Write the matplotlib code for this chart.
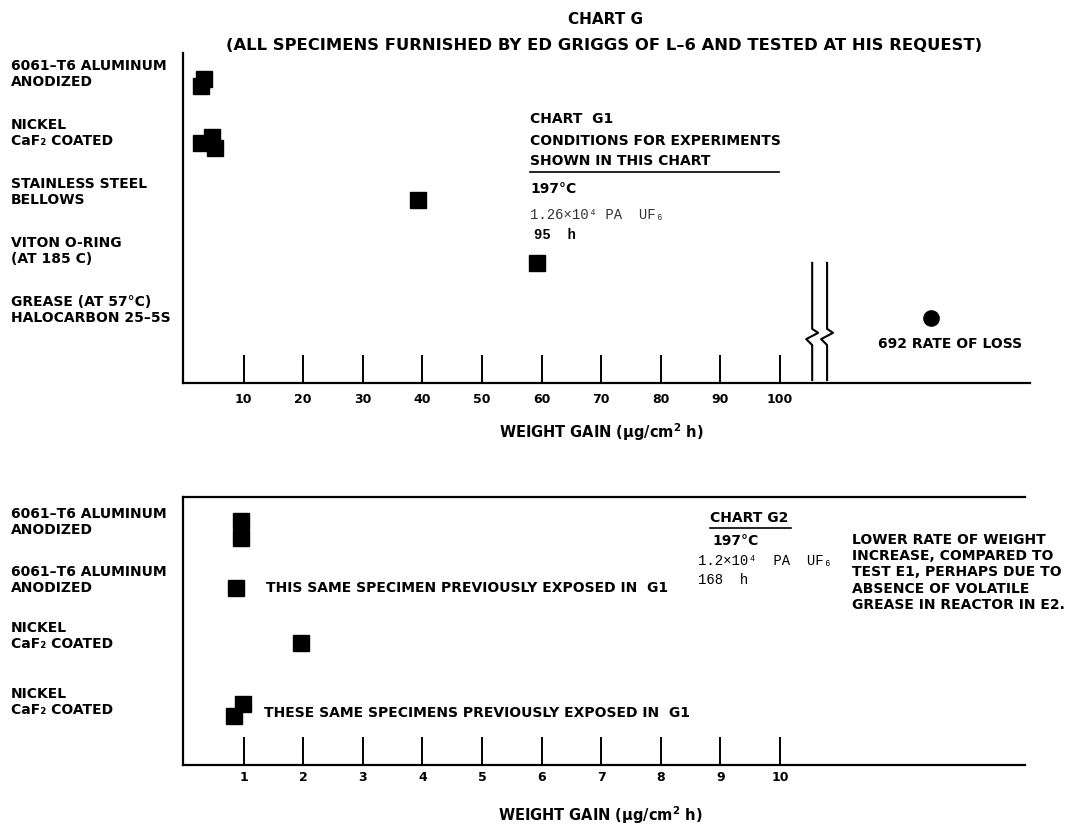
import numpy as np
import matplotlib
matplotlib.use("Agg")
import matplotlib.pyplot as plt
from matplotlib.transforms import blended_transform_factory

# ---------------- data ----------------
top_labels = ["6061\u2013T6 ALUMINUM\nANODIZED",
              "NICKEL\nCaF\u2082 COATED",
              "STAINLESS STEEL\nBELLOWS",
              "VITON O-RING\n(AT 185 C)",
              "GREASE (AT 57\u00b0C)\nHALOCARBON 25\u20135S"]
# weight gain per specimen (ug/cm2 h), row index, small vertical jitter (rows)
top_gain = [3.4, 2.8, 4.7, 2.9, 5.2, 39.3, 59.2]
top_row = [0, 0, 1, 1, 1, 2, 3]
top_jit = [-0.05, 0.07, -0.07, 0.03, 0.12, 0.0, 0.07]
grease_loss = 692
grease_row = 4

top_ticks = [10, 20, 30, 40, 50, 60, 70, 80, 90, 100]

bot_labels = ["6061\u2013T6 ALUMINUM\nANODIZED",
              "6061\u2013T6 ALUMINUM\nANODIZED",
              "NICKEL\nCaF\u2082 COATED",
              "NICKEL\nCaF\u2082 COATED"]
bot_gain = [0.95, 0.95, 0.87, 1.96, 0.99, 0.84]
bot_row = [0, 0, 1, 2, 3, 3]
bot_jit = [-0.15, 0.13, 0.0, -0.03, -0.1, 0.1]
bot_ticks = [1, 2, 3, 4, 5, 6, 7, 8, 9, 10]

# ---------------- layout ----------------
W, H = 1068, 827
fig = plt.figure(figsize=(W / 100, H / 100), dpi=100)
plt.rcParams['font.family'] = ['DejaVu Sans']
plt.rcParams['font.weight'] = 'bold'
plt.rcParams['mathtext.default'] = 'bf'

def fx(px):
    return px / W

def fy(py):
    return 1 - py / H

FS = 10
mono = ['Liberation Mono', 'DejaVu Sans Mono']

# top panel: left 183, right 1030, top 53, bottom 383 (px)
ax1 = fig.add_axes([fx(183), fy(383), fx(1030 - 183), (383 - 53) / H])
top_rows_pos = np.arange(len(top_labels))
ax1.set_xlim(-0.17, (1030 - 184) / 5.96)
ax1.set_ylim(5.1, -0.49)

# bottom panel: left 183, right 1025, top 497, bottom 765
ax2 = fig.add_axes([fx(183), fy(765), fx(1025 - 183), (765 - 497) / H])
bot_rows_pos = np.array([0, 1, 1.97, 3.1])
ax2.set_xlim(-0.017, (1025 - 184) / 59.6)
ax2.set_ylim(4.05, -0.57)

for ax in (ax1, ax2):
    ax.spines['right'].set_visible(False)
    ax.spines['left'].set_linewidth(1.6)
    ax.spines['bottom'].set_linewidth(1.6)
    ax.spines['top'].set_linewidth(1.6)
    ax.set_yticks([])
    ax.tick_params(axis='x', direction='in', length=20, width=1.4,
                   labelsize=9, colors='black')
ax1.spines['top'].set_visible(False)
ax1.tick_params(axis='x', pad=7.5)
ax2.tick_params(axis='x', pad=4.5)

ax1.set_xticks(top_ticks)
ax1.set_xticklabels([str(t) for t in top_ticks], fontweight='bold', fontsize=9)
ax2.set_xticks(bot_ticks)
ax2.set_xticklabels([str(t) for t in bot_ticks], fontweight='bold', fontsize=9)

# markers
msz = 11.5
ax1.plot(top_gain, top_rows_pos[top_row] + np.array(top_jit), 's', color='black',
         ms=msz, mec='black', clip_on=False)


def broken_x(v):
    # values beyond the axis break are drawn in the zone right of the break
    return v if v <= 100 else 125.3


ax1.plot([broken_x(grease_loss)], [top_rows_pos[grease_row]], 'o', color='black', ms=11)
ax1.annotate(f"{grease_loss} RATE OF LOSS", (broken_x(grease_loss), top_rows_pos[grease_row]),
             xytext=(-53, -26), textcoords='offset pixels', fontsize=FS,
             va='center', ha='left')

ax2.plot(bot_gain, bot_rows_pos[bot_row] + np.array(bot_jit), 's', color='black',
         ms=msz, mec='black', clip_on=False)

# axis break marks
brk = blended_transform_factory(ax1.transData, ax1.transAxes)
for xb in [105.4, 107.9]:
    xs = [xb, xb, xb + 1.0, xb - 1.0, xb, xb]
    ys = [0.364, 0.164, 0.152, 0.133, 0.115, 0.009]
    ax1.plot(xs, ys, color='black', lw=1.5, transform=brk, clip_on=False)

# row labels
lt1 = blended_transform_factory(fig.transFigure, ax1.transData)
for i, lab in enumerate(top_labels):
    ax1.text(fx(11), top_rows_pos[i] - 0.14, lab, transform=lt1, fontsize=FS,
             va='center', ha='left', linespacing=1.2)
lt2 = blended_transform_factory(fig.transFigure, ax2.transData)
for i, lab in enumerate(bot_labels):
    ax2.text(fx(11), bot_rows_pos[i] - 0.14, lab, transform=lt2, fontsize=FS,
             va='center', ha='left', linespacing=1.2)

# titles
fig.text(fx(605), fy(20), "CHART G", ha='center', va='center', fontsize=11)
fig.text(fx(604), fy(45),
         "(ALL SPECIMENS FURNISHED BY ED GRIGGS OF L\u20136 AND TESTED AT HIS REQUEST)",
         ha='center', va='center', fontsize=11.8)

# x labels
xlab = "WEIGHT GAIN ($\\mu$g/cm$^{2}$ h)"
fig.text(fx(601), fy(432), xlab, ha='center', va='center', fontsize=10.5)
fig.text(fx(600), fy(815), xlab, ha='center', va='center', fontsize=10.5)

# chart G1 conditions
fig.text(fx(530), fy(119), "CHART  G1", fontsize=FS, va='center')
fig.text(fx(530), fy(141), "CONDITIONS FOR EXPERIMENTS", fontsize=FS, va='center')
fig.text(fx(530), fy(161), "SHOWN IN THIS CHART", fontsize=FS, va='center')
fig.add_artist(plt.Line2D([fx(530), fx(779)], [fy(172), fy(172)], color='black', lw=1.2))
fig.text(fx(530), fy(189), "197\u00b0C", fontsize=FS, va='center')
fig.text(fx(530), fy(215), "1.26\u00d710\u2074 PA  UF\u2086", fontsize=10, va='center',
         family=mono, weight='normal', color='#333333')
fig.text(fx(534), fy(235), "95  h", fontsize=10, va='center', family=mono)

# chart G2 conditions
fig.text(fx(710), fy(518), "CHART G2", fontsize=FS, va='center')
fig.add_artist(plt.Line2D([fx(710), fx(791)], [fy(528), fy(528)], color='black', lw=1.2))
fig.text(fx(712), fy(541), "197\u00b0C", fontsize=FS, va='center')
fig.text(fx(698), fy(561), "1.2\u00d710\u2074  PA  UF\u2086", fontsize=10, va='center',
         family=mono, weight='normal')
fig.text(fx(698), fy(580), "168  h", fontsize=10, va='center', family=mono, weight='normal')

note = ["LOWER RATE OF WEIGHT", "INCREASE, COMPARED TO", "TEST E1, PERHAPS DUE TO",
        "ABSENCE OF VOLATILE", "GREASE IN REACTOR IN E2."]
fig.text(fx(852), fy(533), "\n".join(note), fontsize=FS, va='top', ha='left', linespacing=1.2)

# notes next to re-exposed specimens
ax2.text(1.38, bot_rows_pos[1], "THIS SAME SPECIMEN PREVIOUSLY EXPOSED IN  G1",
         fontsize=FS, va='center')
ax2.text(1.34, bot_rows_pos[3] + 0.05, "THESE SAME SPECIMENS PREVIOUSLY EXPOSED IN  G1",
         fontsize=FS, va='center')

fig.savefig("out.png", dpi=100)
